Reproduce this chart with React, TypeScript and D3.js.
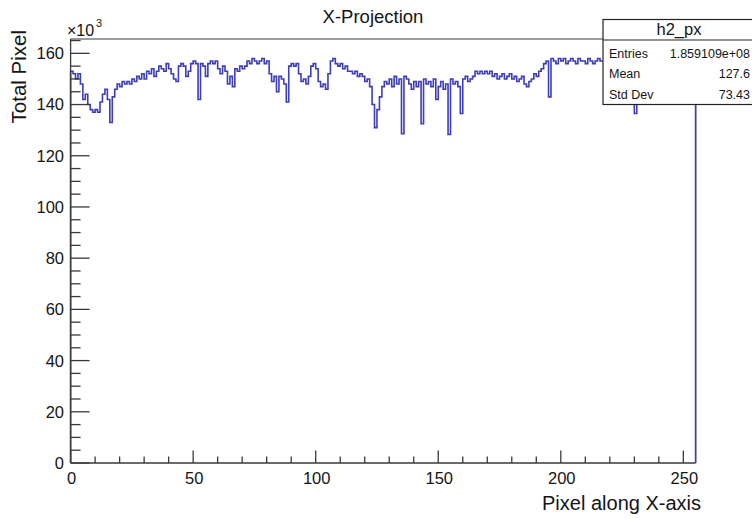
import React from "react";
import * as d3 from "d3";

// Per-bin totals along the X axis, in units of 10^3 pixels (bins 0..254)
const binTotals: number[] = [
  153, 152, 150, 152, 148, 142, 144, 140, 138, 137,
  138, 137, 141, 144, 146, 142, 133, 143, 146, 148,
  147, 149, 148, 149, 148, 150, 149, 151, 150, 152,
  150, 153, 152, 154, 151, 153, 155, 154, 153, 156,
  154, 152, 150, 149, 155, 156, 155, 151, 153, 156,
  157, 156, 142, 156, 155, 151, 156, 157, 156, 157,
  154, 152, 155, 153, 148, 151, 147, 154, 153, 155,
  154, 155, 157, 156, 158, 157, 156, 157, 158, 156,
  157, 152, 149, 151, 145, 151, 150, 148, 141, 155,
  156, 155, 156, 152, 149, 150, 148, 151, 155, 156,
  154, 149, 147, 148, 146, 152, 157, 158, 156, 155,
  156, 154, 155, 153, 153, 152, 153, 151, 152, 151,
  149, 150, 147, 140, 131, 138, 143, 147, 149, 148,
  150, 147, 151, 148, 150, 128.6, 151, 150, 148, 146,
  149, 147, 149, 132.5, 150, 148, 149, 147, 150, 142,
  147, 149, 146, 148, 128.3, 150, 148, 149, 147, 136.5,
  150, 151, 149, 150, 151, 153, 152, 153, 152, 153,
  152, 153, 151, 152, 150, 151, 152, 150, 151, 152,
  150, 151, 149, 150, 151, 148, 147, 149, 150, 152,
  151, 153, 154, 156, 157, 143, 158, 157, 156, 158,
  157, 158, 156, 157, 158, 157, 156, 158, 157, 157,
  156, 158, 157, 156, 157, 158, 157, 157, 156, 158,
  157, 156, 157, 158, 156, 157, 158, 157, 156, 157,
  136.5, 157, 156, 158, 157, 156, 157, 158, 156, 157,
  158, 157, 156, 157, 158, 157, 156, 157, 158, 157,
  156, 157, 158, 157, 157,
];

const yMajorTicks: number[] = [0, 20, 40, 60, 80, 100, 120, 140, 160];
const xMajorTicks: number[] = [0, 50, 100, 150, 200, 250];

const histName = "h2_px";
const statLabels: string[] = ["Entries", "Mean", "Std Dev"];
const statValues: string[] = ["1.859109e+08", "127.6", "73.43"];

const FONT = "'Liberation Sans', Arial, Helvetica, sans-serif";
const LINE_COLOR = "#3d3db8";
const AXIS_COLOR = "#3a3a3a";
const TEXT_COLOR = "#151515";

export default function App() {
  const width = 752;
  const height = 519;
  const left = 70.6;
  const right = 695.6;
  const top = 39;
  const bottom = 463;

  const x = d3.scaleLinear().domain([0, binTotals.length]).range([left, right]);
  const y = d3.scaleLinear().domain([0, 165.6]).range([bottom, top]);

  // Step outline of the histogram, rising from and returning to zero
  const path = d3.path();
  path.moveTo(x(0), y(0));
  binTotals.forEach((v, i) => {
    path.lineTo(x(i), y(v));
    path.lineTo(x(i + 1), y(v));
  });
  path.lineTo(x(binTotals.length), y(0));

  const yMinor = d3.range(0, 166, 5).filter((v) => v % 20 !== 0);
  const xMinor = d3.range(0, 256, 10).filter((v) => v % 50 !== 0);

  const boxX = 603;
  const boxY = 19.5;
  const boxBottom = 104.5;

  return (
    <svg
      width={width}
      height={height}
      style={{ position: "absolute", left: 0, top: 0, background: "#fff" }}
      fontFamily={FONT}
    >
      <rect width={width} height={height} fill="#fff" />

      {/* title */}
      <text x={373} y={23} textAnchor="middle" fontSize={18.5} fill={TEXT_COLOR}>
        X-Projection
      </text>

      {/* frame top and right edges */}
      <line x1={left} x2={right} y1={top} y2={top} stroke={AXIS_COLOR} strokeWidth={1.2} />
      <line x1={right} x2={right} y1={top} y2={bottom} stroke={AXIS_COLOR} strokeWidth={1.2} />

      {/* histogram */}
      <path d={path.toString()} fill="none" stroke={LINE_COLOR} strokeWidth={1.6} />

      {/* y axis */}
      <line x1={left} x2={left} y1={top} y2={bottom} stroke={AXIS_COLOR} strokeWidth={1.3} />
      {yMajorTicks.map((t) => (
        <g key={"ym" + t}>
          <line x1={left} x2={left + 19} y1={y(t)} y2={y(t)} stroke={AXIS_COLOR} strokeWidth={1.3} />
          <text x={64} y={y(t)} dy="0.36em" textAnchor="end" fontSize={16.5} fill={TEXT_COLOR}>
            {t}
          </text>
        </g>
      ))}
      {yMinor.map((t) => (
        <line key={"yn" + t} x1={left} x2={left + 10} y1={y(t)} y2={y(t)} stroke={AXIS_COLOR} strokeWidth={1.3} />
      ))}
      <text x={67} y={35.5} fontSize={16} fill={TEXT_COLOR}>
        ×10
      </text>
      <text x={96} y={27} fontSize={11} fill={TEXT_COLOR}>
        3
      </text>
      <text
        transform={`translate(26,30) rotate(-90)`}
        textAnchor="end"
        fontSize={20.5}
        fill={TEXT_COLOR}
      >
        Total Pixel
      </text>

      {/* x axis */}
      <line x1={left} x2={right} y1={bottom} y2={bottom} stroke={AXIS_COLOR} strokeWidth={1.3} />
      {xMajorTicks.map((t) => (
        <g key={"xm" + t}>
          <line x1={x(t)} x2={x(t)} y1={bottom} y2={bottom - 12.5} stroke={AXIS_COLOR} strokeWidth={1.3} />
          <text x={x(t) + 1} y={483.5} textAnchor="middle" fontSize={16.5} fill={TEXT_COLOR}>
            {t}
          </text>
        </g>
      ))}
      {xMinor.map((t) => (
        <line key={"xn" + t} x1={x(t)} x2={x(t)} y1={bottom} y2={bottom - 6.5} stroke={AXIS_COLOR} strokeWidth={1.3} />
      ))}
      <text x={701} y={510} textAnchor="end" fontSize={20} fill={TEXT_COLOR}>
        Pixel along X-axis
      </text>

      {/* statistics box */}
      <rect x={boxX} y={boxY} width={width - boxX + 5} height={boxBottom - boxY} fill="#fff" stroke="#222" strokeWidth={1.2} />
      <line x1={boxX} x2={width} y1={40} y2={40} stroke="#222" strokeWidth={1.2} />
      <text x={679} y={35} textAnchor="middle" fontSize={16.5} fill={TEXT_COLOR}>
        {histName}
      </text>
      {statLabels.map((lab, i) => (
        <g key={lab}>
          <text x={609} y={57.5 + i * 20.8} fontSize={12.5} fill={TEXT_COLOR}>
            {lab}
          </text>
          <text x={750} y={57.5 + i * 20.8} textAnchor="end" fontSize={12.5} fill={TEXT_COLOR}>
            {statValues[i]}
          </text>
        </g>
      ))}
    </svg>
  );
}
